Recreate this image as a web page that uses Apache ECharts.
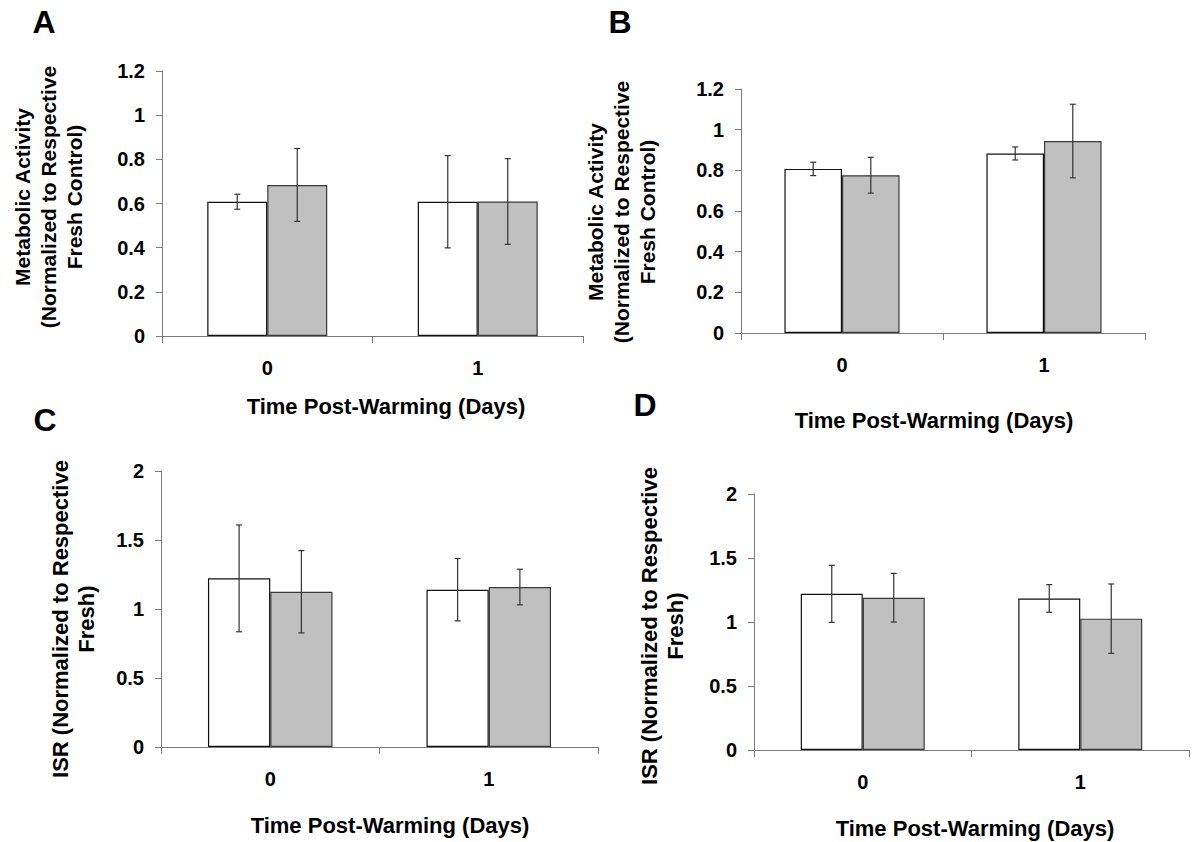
<!DOCTYPE html>
<html>
<head>
<meta charset="utf-8">
<title>Post-warming panels</title>
<script src="https://cdn.jsdelivr.net/npm/echarts@6/dist/echarts.min.js"></script>
<style>
  html, body { margin: 0; padding: 0; background: #fff; }
  #main { width: 1196px; height: 842px; }
</style>
</head>
<body>
<div id="main"></div>
<script>
var days = ["0", "1"];

// A: metabolic activity (mean, sd)
var aWhite = [0.608, 0.608];
var aWhiteSd = [0.034, 0.209];
var aGray = [0.684, 0.609];
var aGraySd = [0.165, 0.194];

// B: metabolic activity
var bWhite = [0.807, 0.883];
var bWhiteSd = [0.033, 0.032];
var bGray = [0.776, 0.944];
var bGraySd = [0.088, 0.181];

// C: ISR
var cWhite = [1.222, 1.140];
var cWhiteSd = [0.387, 0.226];
var cGray = [1.125, 1.159];
var cGraySd = [0.298, 0.129];

// D: ISR
var dWhite = [1.220, 1.184];
var dWhiteSd = [0.223, 0.108];
var dGray = [1.190, 1.026];
var dGraySd = [0.190, 0.271];

var maTicks = [0, 1.2, 0.2];   // min, max, interval
var isrTicks = [0, 2, 0.5];

var FONT = "Liberation Sans, Arial, sans-serif";
var GAP = 0.43; // bar category gap

// grid boxes in px: left, top, width, height
var boxes = [
  [162, 71, 421, 265],
  [741, 89, 404, 244],
  [161, 471, 437, 276],
  [754, 494, 435, 256]
];

function errRender(side) {
  return function (params, api) {
    var c = api.value(0);
    var m = api.value(1), sd = api.value(2);
    var top = api.coord([c, m + sd]);
    var bot = api.coord([c, m - sd]);
    var band = api.size([1, 0])[0];
    var w = band * (1 - GAP) / 2;
    var x = top[0] + side * w / 2;
    var cap = 3;
    var st = { stroke: "#333", lineWidth: 1.2 };
    return {
      type: "group",
      children: [
        { type: "line", shape: { x1: x, y1: top[1], x2: x, y2: bot[1] }, style: st },
        { type: "line", shape: { x1: x - cap, y1: top[1], x2: x + cap, y2: top[1] }, style: st },
        { type: "line", shape: { x1: x - cap, y1: bot[1], x2: x + cap, y2: bot[1] }, style: st }
      ]
    };
  };
}

function errData(mean, sd) {
  return days.map(function (d, i) { return [i, mean[i], sd[i]]; });
}

var panels = [
  { white: aWhite, whiteSd: aWhiteSd, gray: aGray, graySd: aGraySd, ticks: maTicks },
  { white: bWhite, whiteSd: bWhiteSd, gray: bGray, graySd: bGraySd, ticks: maTicks },
  { white: cWhite, whiteSd: cWhiteSd, gray: cGray, graySd: cGraySd, ticks: isrTicks },
  { white: dWhite, whiteSd: dWhiteSd, gray: dGray, graySd: dGraySd, ticks: isrTicks }
];

var axisGray = "#7a7a7a";
var grids = [], xAxes = [], yAxes = [], series = [];

panels.forEach(function (p, i) {
  var b = boxes[i];
  grids.push({ left: b[0], top: b[1], width: b[2], height: b[3], containLabel: false });
  xAxes.push({
    type: "category",
    gridIndex: i,
    data: days,
    boundaryGap: true,
    axisLine: { lineStyle: { color: axisGray, width: 1 } },
    axisTick: { show: true, length: 7, lineStyle: { color: axisGray } },
    axisLabel: { margin: 22, color: "#000", fontFamily: FONT, fontWeight: "bold", fontSize: 20 },
    splitLine: { show: false }
  });
  yAxes.push({
    type: "value",
    gridIndex: i,
    min: p.ticks[0],
    max: p.ticks[1],
    interval: p.ticks[2],
    axisLine: { show: true, lineStyle: { color: axisGray, width: 1 } },
    axisTick: { show: true, length: 6, lineStyle: { color: axisGray } },
    axisLabel: { margin: 17, color: "#000", fontFamily: FONT, fontWeight: "bold", fontSize: 20 },
    splitLine: { show: false }
  });
  series.push({
    type: "bar",
    xAxisIndex: i, yAxisIndex: i,
    data: p.white,
    barGap: "0%",
    barCategoryGap: (GAP * 100) + "%",
    itemStyle: { color: "#ffffff", borderColor: "#111", borderWidth: 1.2 },
    silent: true
  });
  series.push({
    type: "bar",
    xAxisIndex: i, yAxisIndex: i,
    data: p.gray,
    barGap: "0%",
    barCategoryGap: (GAP * 100) + "%",
    itemStyle: { color: "#c0c0c0", borderColor: "#3a3a3a", borderWidth: 1.2 },
    silent: true
  });
  series.push({
    type: "custom",
    xAxisIndex: i, yAxisIndex: i,
    renderItem: errRender(-1),
    encode: { x: 0, y: 1 },
    data: errData(p.white, p.whiteSd),
    z: 5, silent: true
  });
  series.push({
    type: "custom",
    xAxisIndex: i, yAxisIndex: i,
    renderItem: errRender(1),
    encode: { x: 0, y: 1 },
    data: errData(p.gray, p.graySd),
    z: 5, silent: true
  });
});

function txt(str, x, y, size, rot, lh) {
  return {
    type: "text",
    x: x, y: y,
    rotation: rot || 0,
    silent: true,
    style: {
      text: str,
      fill: "#000",
      font: "bold " + size + "px " + FONT,
      textAlign: "center",
      textVerticalAlign: "middle",
      lineHeight: lh || size
    }
  };
}

var R = Math.PI / 2;
var xTitle = "Time Post-Warming (Days)";
var maTitle = "Metabolic Activity\n(Normalized to Respective\nFresh Control)";
var isrTitle = "ISR (Normalized to Respective\nFresh)";

var graphics = [
  txt("A", 44, 22, 32),
  txt("B", 620, 22, 32),
  txt("C", 45, 420, 32),
  txt("D", 645, 405, 32),
  txt(xTitle, 386, 406, 22),
  txt(xTitle, 934, 420, 22),
  txt(xTitle, 390, 825, 22),
  txt(xTitle, 975, 828, 22),
  txt(maTitle, 48, 197, 21, R, 26),
  txt(maTitle, 621, 212, 21, R, 26),
  txt(isrTitle, 73, 619, 22, R, 26),
  txt(isrTitle, 662, 626, 22, R, 26)
];

var chart = echarts.init(document.getElementById("main"), null, { renderer: "svg" });
chart.setOption({
  animation: false,
  backgroundColor: "#ffffff",
  grid: grids,
  xAxis: xAxes,
  yAxis: yAxes,
  series: series,
  graphic: graphics
});
</script>
</body>
</html>
